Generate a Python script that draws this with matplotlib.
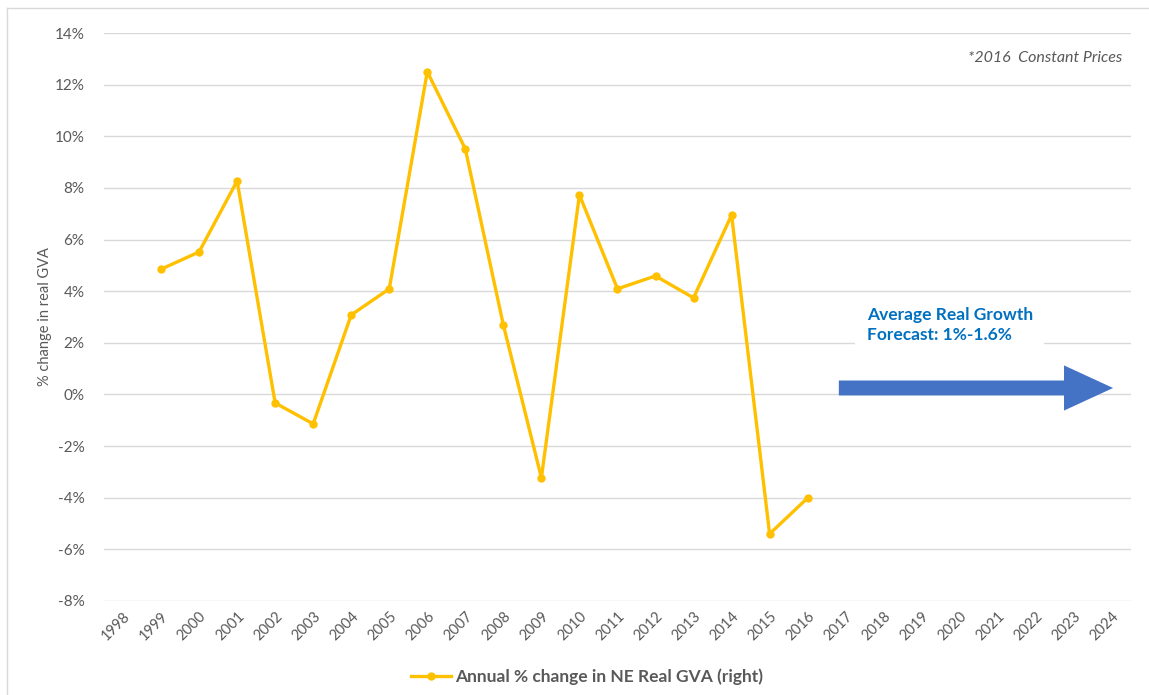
import matplotlib.pyplot as plt
from matplotlib.patches import FancyArrow
from matplotlib.lines import Line2D
from matplotlib.ticker import FuncFormatter, MultipleLocator

plt.rcParams['font.family'] = ['Lato', 'DejaVu Sans']

# Years shown on the category axis
years = [str(y) for y in range(1998, 2025)]

# Annual % change in NE real GVA (1999-2016)
gva_years = [str(y) for y in range(1999, 2017)]
gva_change = [4.85, 5.52, 8.27, -0.33, -1.14, 3.08, 4.09, 12.5, 9.51,
              2.69, -3.23, 7.73, 4.09, 4.59, 3.74, 6.95, -5.40, -4.01]

series_label = "Annual % change in NE Real GVA (right)"
forecast_text = "Average Real Growth\nForecast: 1%-1.6%"
note_text = "*2016  Constant Prices"

gold = '#FFC000'
grey = '#595959'
blue_text = '#0070C0'
blue_arrow = '#4472C4'

fig = plt.figure(figsize=(11.49, 6.95), dpi=100)
ax = fig.add_axes([0.0905, 0.1353, 0.8938, 0.8172])

xpos = [years.index(y) for y in gva_years]
ax.plot(xpos, gva_change, color=gold, linewidth=2.4, marker='o',
        markersize=5, zorder=3)

ax.set_xlim(-0.5, len(years) - 0.5)
ax.set_ylim(-8, 14)
ax.yaxis.set_major_locator(MultipleLocator(2))
ax.yaxis.set_major_formatter(FuncFormatter(lambda v, p: f"{v:.0f}%"))
ax.set_xticks(range(len(years)))
ax.set_xticklabels(years, rotation=45, ha='right', va='top',
                   rotation_mode='anchor', fontsize=10.5, color=grey)
ax.tick_params(axis='x', length=0, pad=6)
ax.tick_params(axis='y', length=0, pad=14, labelsize=11, labelcolor=grey)
ax.grid(axis='y', color='#D9D9D9', linewidth=1)
ax.set_axisbelow(True)
for s in ax.spines.values():
    s.set_visible(False)

ax.set_ylabel("% change in real GVA", fontsize=10.5, color=grey, labelpad=2)

# forecast arrow and text
ax.add_patch(FancyArrow(18.82, 0.25, 7.21, 0, width=0.58, head_width=1.75,
                        head_length=1.29, length_includes_head=True,
                        color=blue_arrow, linewidth=0, zorder=4))
ax.text(19.55, 2.69, forecast_text, color=blue_text, fontsize=12.5,
        fontweight='bold', ha='left', va='center', linespacing=1.35,
        bbox=dict(facecolor='white', edgecolor='none', pad=8), zorder=5)

ax.text(1122 / 1149, 1 - 58 / 695, note_text, transform=fig.transFigure,
        ha='right', va='center', fontsize=11.5, style='italic', color=grey)

# legend
handle = Line2D([], [], color=gold, linewidth=2.4, marker='o', markersize=5)
leg = fig.legend([handle], [series_label], loc='center',
                 bbox_to_anchor=(0.511, 0.026), frameon=False,
                 handlelength=2.3, handletextpad=0.2,
                 prop={'size': 12.5, 'weight': 'bold'})
for t in leg.get_texts():
    t.set_color(grey)

# outer chart border (left and top visible)
fig.add_artist(Line2D([7 / 1149, 7 / 1149], [0, 1 - 8 / 695],
                      transform=fig.transFigure, color='#D9D9D9', linewidth=1))
fig.add_artist(Line2D([7 / 1149, 1], [1 - 8 / 695, 1 - 8 / 695],
                      transform=fig.transFigure, color='#D9D9D9', linewidth=1))

fig.savefig('out.png', dpi=100, facecolor='white')
